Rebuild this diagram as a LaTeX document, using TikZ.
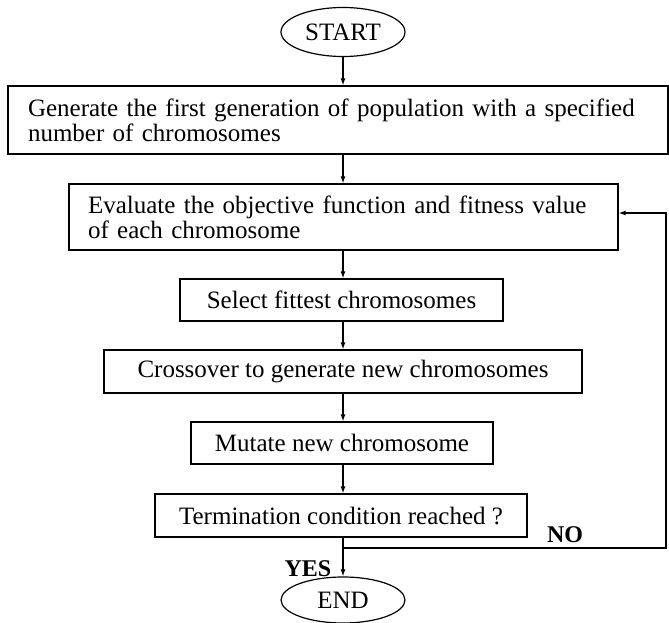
\documentclass[tikz,border=0pt]{standalone}
\usepackage{fontspec}
\setmainfont{Liberation Serif}
\usetikzlibrary{shapes.geometric,arrows.meta}
\tikzset{
gabox/.style={draw,line width=1.2pt,inner sep=0pt,font=\fontsize{25}{25}\selectfont},
oval/.style={gabox,ellipse,minimum width=124pt,minimum height=49pt},
flow/.style={line width=1.2pt,-{Latex[length=7pt,width=5pt]}},
lbl/.style={font=\fontsize{24}{24}\selectfont\bfseries}
}
\begin{document}
\begin{tikzpicture}[x=1pt,y=-1pt]
\useasboundingbox (0,0) rectangle (669,623);
\coordinate (axis) at (343,0);
\coordinate (loopx) at (666,0);
\node[oval] (start) at (343,32) {START};
\node[gabox,minimum width=660pt,minimum height=68pt,text width=620pt,align=left] (gen) at (338,120) {Generate the first generation of population with a specified\\number of chromosomes};
\node[gabox,minimum width=549pt,minimum height=66pt,text width=511pt,align=left] (eval) at (343.5,217) {Evaluate the objective function and fitness value\\of each chromosome};
\node[gabox,minimum width=323pt,minimum height=42pt] (select) at (341.5,300) {Select fittest chromosomes};
\node[gabox,minimum width=478pt,minimum height=43pt] (cross) at (343,371.5) {Crossover to generate new chromosomes};
\node[gabox,minimum width=302pt,minimum height=42pt] (mutate) at (342,443) {Mutate new chromosome};
\node[gabox,minimum width=372pt,minimum height=43pt] (check) at (341,515.5) {Termination condition reached ?};
\node[oval,minimum height=46pt] (stop) at (343,600) {END};
\coordinate (split) at (343,548);
\foreach \a/\b in {start/gen,gen/eval,eval/select,select/cross,cross/mutate,mutate/check,check/stop}{\draw[flow](\a.south-|axis)--(\b.north-|axis);}
\draw[flow](split)--(split-|loopx)|-([yshift=4pt]eval.east);
\node[lbl] (yes) at (308,569) {YES};
\node[lbl] (no) at (565,535) {NO};
\end{tikzpicture}
\end{document}
